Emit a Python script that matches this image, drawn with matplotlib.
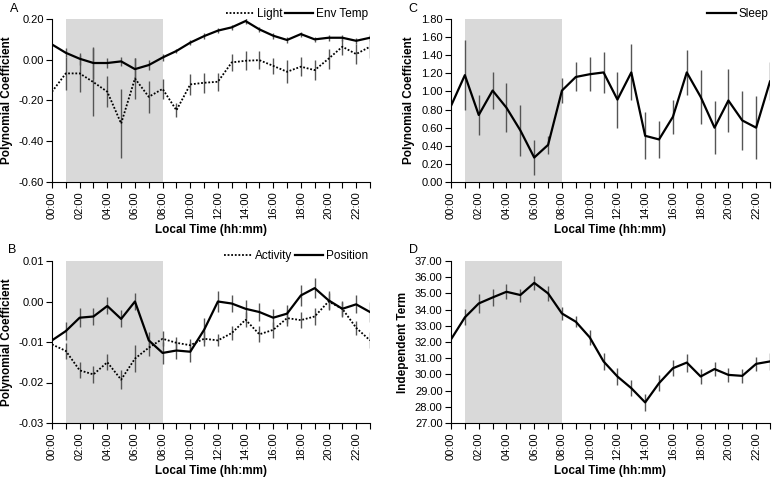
import numpy as np
import matplotlib
matplotlib.use("Agg")
import matplotlib.pyplot as plt
from matplotlib.ticker import FormatStrFormatter, MultipleLocator, FixedLocator

plt.rcParams['font.family'] = ['Liberation Sans', 'DejaVu Sans']

hours = list(range(24))
hour_labels = ["%02d:00" % h for h in range(0, 24, 2)]

# Panel A
env_temp = [0.075, 0.034, 0.005, -0.016, -0.016, -0.008, -0.046, -0.026, 0.011, 0.043,
            0.084, 0.116, 0.143, 0.159, 0.190, 0.149, 0.118, 0.097, 0.126, 0.100,
            0.108, 0.108, 0.093, 0.108]
env_temp_err = [np.nan, 0.022, 0.030, 0.080, 0.023, 0.023, 0.056, 0.025, 0.016, 0.012,
                0.014, 0.014, 0.013, 0.014, 0.014, 0.014, 0.014, 0.015, 0.012, 0.013,
                0.014, 0.014, 0.014, 0.016]
light = [-0.157, -0.067, -0.067, -0.110, -0.157, -0.313, -0.092, -0.182, -0.143, -0.248,
         -0.121, -0.113, -0.108, -0.013, -0.005, -0.002, -0.030, -0.059, -0.034, -0.051,
         0.005, 0.064, 0.028, 0.064]
light_err = [np.nan, 0.080, 0.090, 0.167, 0.075, 0.170, 0.100, 0.080, 0.050, 0.035,
             0.050, 0.050, 0.045, 0.040, 0.047, 0.043, 0.040, 0.057, 0.047, 0.050,
             0.050, 0.040, 0.050, 0.055]

# Panel B
position = [-0.0096, -0.0073, -0.0040, -0.0037, -0.0011, -0.0043, 0.0000, -0.0096, -0.0127, -0.0121,
            -0.0124, -0.0070, 0.0000, -0.0005, -0.0018, -0.0026, -0.0040, -0.0030, 0.0015, 0.0033,
            0.0003, -0.0018, -0.0007, -0.0026]
position_err = [np.nan, 0.0023, 0.0023, 0.0022, 0.0021, 0.0021, 0.0020, 0.0021, 0.0027, 0.0022,
                0.0025, 0.0029, 0.0025, 0.0022, 0.0022, 0.0022, 0.0022, 0.0022, 0.0025, 0.0024,
                0.0022, 0.0020, 0.0022, 0.0024]
activity = [-0.0106, -0.0122, -0.0170, -0.0180, -0.0150, -0.0193, -0.0141, -0.0114, -0.0092, -0.0102,
            -0.0108, -0.0092, -0.0096, -0.0078, -0.0045, -0.0081, -0.0070, -0.0041, -0.0046, -0.0037,
            0.0000, -0.0018, -0.0065, -0.0096]
activity_err = [np.nan, 0.0020, 0.0020, 0.0020, 0.0020, 0.0024, 0.0034, 0.0020, 0.0018, 0.0015,
                0.0015, 0.0018, 0.0015, 0.0018, 0.0018, 0.0020, 0.0020, 0.0020, 0.0020, 0.0020,
                0.0020, 0.0018, 0.0018, 0.0020]

# Panel C
sleep = [0.84, 1.18, 0.74, 1.01, 0.82, 0.57, 0.27, 0.41, 1.01, 1.16,
         1.19, 1.21, 0.91, 1.21, 0.51, 0.47, 0.72, 1.21, 0.94, 0.60,
         0.90, 0.68, 0.60, 1.11]
sleep_err = [np.nan, 0.39, 0.22, 0.20, 0.27, 0.28, 0.19, 0.10, 0.14, 0.16,
             0.19, 0.23, 0.31, 0.31, 0.26, 0.20, 0.19, 0.25, 0.30, 0.29,
             0.35, 0.33, 0.35, 0.21]

# Panel D
indep = [32.16, 33.52, 34.38, 34.75, 35.10, 34.90, 35.65, 35.00, 33.76, 33.25,
         32.29, 30.80, 29.87, 29.15, 28.27, 29.46, 30.38, 30.73, 29.87, 30.33,
         29.97, 29.91, 30.65, 30.80]
indep_err = [np.nan, 0.50, 0.58, 0.50, 0.45, 0.40, 0.43, 0.45, 0.40, 0.35,
             0.45, 0.50, 0.55, 0.50, 0.55, 0.50, 0.50, 0.56, 0.45, 0.45,
             0.45, 0.45, 0.45, 0.53]

W, H = 775, 478
fig = plt.figure(figsize=(W / 100, H / 100), dpi=100)

def make_ax(l, r, t, b):
    return fig.add_axes([l / W, 1 - b / H, (r - l) / W, (b - t) / H])

axA = make_ax(52, 370, 19, 182)
axB = make_ax(52, 370, 261, 423)
axC = make_ax(451, 770, 19, 182)
axD = make_ax(451, 770, 261, 423)

FS = 8
LFS = 8.5
ERRC = '#555555'

def style(ax, ylim, ystep, ylabel):
    ax.set_xlim(0, 23)
    ax.set_ylim(*ylim)
    ax.axvspan(1, 8, color='#d9d9d9', lw=0, zorder=0)
    ax.spines['top'].set_visible(False)
    ax.spines['right'].set_visible(False)
    ax.xaxis.set_major_locator(FixedLocator(list(range(0, 24, 2))))
    ax.xaxis.set_minor_locator(FixedLocator(list(range(1, 24, 2))))
    ax.set_xticklabels(hour_labels, rotation=90, fontsize=FS)
    ax.tick_params(axis='x', which='both', length=4, width=0.8, pad=3)
    ax.yaxis.set_major_locator(MultipleLocator(ystep))
    ax.yaxis.set_major_formatter(FormatStrFormatter('%.2f'))
    ax.tick_params(axis='y', length=4, width=0.8, labelsize=FS, pad=2)
    ax.set_ylabel(ylabel, fontsize=LFS, fontweight='bold')
    ax.set_xlabel('Local Time (hh:mm)', fontsize=LFS, fontweight='bold', labelpad=3)

def series(ax, y, err, ls, lw, label=None):
    ax.errorbar(hours, y, yerr=err, fmt='none', ecolor=ERRC, elinewidth=1.0, capsize=0, zorder=2)
    ax.plot(hours, y, color='black', ls=ls, lw=lw, label=label, zorder=3)

# A
style(axA, (-0.6, 0.2), 0.2, 'Polynomial Coefficient')
series(axA, light, light_err, (0, (1, 1)), 1.3, 'Light')
series(axA, env_temp, env_temp_err, '-', 1.6, 'Env Temp')

# B
style(axB, (-0.03, 0.01), 0.01, 'Polynomial Coefficient')
series(axB, activity, activity_err, (0, (1, 1)), 1.3, 'Activity')
series(axB, position, position_err, '-', 1.6, 'Position')

# C
style(axC, (0.0, 1.8), 0.2, 'Polynomial Coefficient')
series(axC, sleep, sleep_err, '-', 1.6, 'Sleep')

# D
style(axD, (27, 37), 1.0, 'Independent Term')
series(axD, indep, indep_err, '-', 1.6)

for ax in (axA, axB, axC):
    ax.legend(loc='upper right', bbox_to_anchor=(1.01, 1.095), ncol=2, frameon=False,
              fontsize=LFS, handlelength=2.4, columnspacing=0.2, handletextpad=0.25,
              borderaxespad=0.0)

for ax, letter, x, y in ((axA, 'A', 10, 9), (axB, 'B', 8, 250), (axC, 'C', 408, 9), (axD, 'D', 409, 250)):
    fig.text(x / W, 1 - y / H, letter, fontsize=FS + 1, ha='left', va='center')

fig.savefig('out.png', dpi=100)
